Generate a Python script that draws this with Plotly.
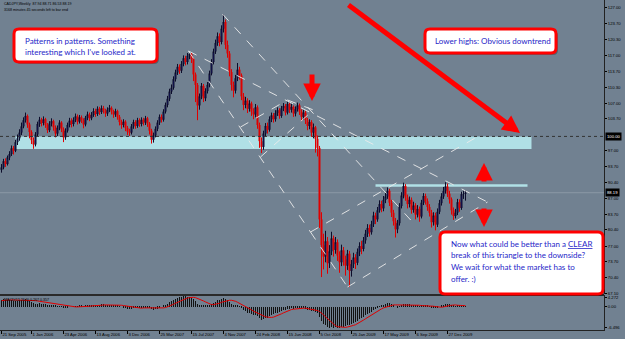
import plotly.graph_objects as go

# ---------------- DATA ----------------
first_open = 93.0
closes = [
    93.5, 94.8, 94.2, 95.6, 96.3, 97.5, 97.0, 98.8, 99.6, 100.8,
    102.1, 103.4, 104.3, 102.5, 100.9, 99.2, 98.3, 100.4, 102.6, 103.5,
    102.8, 103.6, 102.4, 101.3, 102.7, 103.2, 101.9, 100.6, 101.8, 102.9,
    101.5, 99.8, 101.2, 102.4, 103.3, 102.6, 103.5, 104.2, 103.1, 104.0,
    103.4, 102.5, 103.9, 104.6, 103.8, 104.5, 105.3, 104.7, 105.8, 105.1,
    105.9, 105.4, 104.8, 105.6, 106.0, 105.2, 104.6, 105.3, 104.1, 103.0,
    102.4, 103.1, 101.8, 101.0, 100.8, 102.1, 103.0, 102.2, 103.4, 102.6,
    103.5, 102.9, 103.8, 102.7, 101.2, 99.3, 100.2, 101.6, 102.9, 104.1,
    103.5, 105.2, 106.6, 107.9, 109.4, 110.2, 112.0, 113.4, 114.6, 113.8,
    115.2, 116.4, 115.6, 116.9, 117.3, 116.2, 113.0, 110.8, 106.5, 108.4,
    110.6, 108.0, 109.5, 110.8, 113.2, 115.6, 117.8, 119.6, 121.0, 119.8,
    122.6, 124.0, 119.2, 117.4, 113.5, 110.8, 109.6, 112.2, 114.0, 112.8,
    108.4, 106.6, 107.5, 105.8, 106.9, 105.2, 104.6, 106.1, 102.4, 99.0,
    97.8, 100.6, 102.2, 101.4, 103.6, 104.4, 103.6, 104.9, 105.5, 104.3,
    105.9, 106.4, 105.0, 106.8, 105.6, 106.2, 104.8, 105.7, 106.5, 105.2,
    104.1, 105.0, 103.4, 102.2, 103.0, 100.8, 101.9, 99.5, 97.6, 82.6,
    77.2, 74.8, 78.0, 73.4, 75.9, 78.6, 76.2, 77.8, 75.0, 73.6,
    76.1, 74.2, 72.9, 75.4, 71.8, 73.2, 74.6, 73.5, 75.8, 77.0,
    76.4, 78.2, 79.6, 80.8, 79.9, 81.6, 83.4, 82.6, 84.5, 85.8,
    84.9, 86.7, 87.4, 88.6, 86.1, 84.0, 82.2, 80.5, 81.8, 85.4,
    87.6, 89.6, 87.2, 85.8, 86.7, 84.6, 85.5, 83.6, 84.8, 83.2,
    86.1, 87.5, 86.4, 85.2, 84.0, 82.0, 83.4, 81.5, 84.2, 86.0,
    87.4, 88.6, 89.5, 88.0, 86.8, 84.5, 83.3, 84.0, 86.2, 85.0,
    87.9, 87.94, 88.19,
]
highs = [
    94.2, 95.3, 95.4, 96.0, 96.9, 98.1, 98.0, 99.3, 100.4, 101.5,
    102.9, 104.0, 105.0, 104.6, 102.9, 101.3, 99.8, 100.9, 103.1, 104.1,
    103.9, 104.2, 103.9, 102.8, 103.2, 103.8, 103.5, 102.3, 102.3, 103.4,
    103.2, 101.9, 101.7, 102.9, 103.9, 103.8, 104.0, 104.8, 104.6, 104.5,
    104.4, 103.8, 104.3, 105.2, 105.0, 105.1, 105.9, 105.8, 106.3, 106.2,
    106.5, 106.4, 105.8, 106.1, 106.6, 106.3, 105.6, 105.8, 105.6, 104.5,
    103.5, 103.6, 103.4, 102.2, 101.6, 102.6, 103.5, 103.4, 103.9, 103.8,
    104.0, 103.9, 104.3, 104.1, 103.0, 101.6, 100.8, 102.1, 103.4, 104.6,
    104.6, 105.7, 107.1, 108.5, 110.0, 110.9, 112.6, 114.0, 115.2, 115.1,
    115.8, 117.0, 116.9, 117.5, 117.9, 117.6, 116.5, 113.4, 111.2, 109.0,
    111.2, 111.0, 110.1, 111.4, 113.8, 116.2, 118.4, 120.3, 121.8, 121.6,
    123.3, 125.6, 124.5, 120.1, 117.9, 114.1, 111.5, 112.9, 115.4, 114.6,
    113.2, 109.1, 108.3, 108.0, 107.6, 107.3, 105.9, 106.8, 106.5, 102.9,
    99.8, 101.2, 102.8, 102.9, 104.2, 105.0, 104.9, 105.5, 106.1, 105.9,
    106.4, 107.0, 106.8, 107.3, 107.1, 106.9, 106.5, 106.3, 107.1, 106.9,
    105.7, 105.6, 105.4, 103.9, 103.6, 103.4, 102.7, 102.2, 100.2, 98.0,
    84.1, 79.6, 80.2, 78.9, 77.2, 80.0, 79.2, 78.9, 78.4, 75.9,
    77.3, 76.8, 75.0, 76.2, 76.0, 74.1, 75.6, 75.3, 76.5, 77.8,
    78.1, 78.9, 80.4, 81.6, 81.5, 82.3, 84.2, 84.0, 85.2, 86.6,
    86.5, 87.5, 88.2, 89.3, 89.0, 86.7, 84.6, 82.9, 82.5, 86.0,
    88.3, 90.3, 90.0, 87.8, 87.4, 87.2, 86.3, 86.0, 85.6, 85.3,
    86.7, 88.1, 88.0, 87.0, 85.8, 84.6, 84.1, 84.0, 84.9, 86.7,
    88.1, 89.4, 90.4, 90.1, 88.6, 87.2, 85.1, 84.8, 86.9, 86.8,
    88.4, 88.6, 88.71,
]
lows = [
    92.4, 93.1, 93.6, 93.9, 95.0, 95.9, 96.2, 96.7, 98.2, 99.1,
    100.3, 101.7, 102.9, 101.8, 99.6, 98.4, 97.4, 97.9, 100.0, 102.0,
    102.1, 102.3, 101.8, 100.7, 100.9, 102.1, 101.2, 99.8, 100.1, 101.3,
    100.9, 98.8, 99.3, 100.8, 101.9, 101.9, 102.1, 103.0, 102.5, 102.7,
    102.8, 101.7, 102.1, 103.4, 103.2, 103.4, 104.1, 104.1, 104.3, 104.5,
    104.7, 104.8, 104.1, 104.3, 105.1, 104.6, 103.9, 104.1, 103.5, 102.3,
    101.6, 101.9, 101.1, 100.3, 100.1, 100.4, 101.6, 101.6, 101.8, 102.0,
    102.1, 102.3, 102.4, 102.0, 100.4, 98.5, 98.7, 99.8, 101.1, 102.4,
    102.9, 103.1, 104.8, 106.1, 107.4, 108.9, 109.8, 111.5, 112.9, 113.1,
    113.3, 114.7, 114.9, 115.1, 116.2, 115.4, 111.6, 107.2, 103.4, 105.6,
    107.8, 107.2, 107.4, 109.0, 110.3, 112.8, 115.1, 117.3, 119.0, 118.9,
    119.3, 121.8, 118.3, 116.5, 112.6, 109.6, 108.2, 109.0, 111.6, 111.9,
    107.6, 105.5, 105.9, 104.9, 105.2, 104.3, 103.6, 104.0, 101.6, 97.6,
    96.5, 97.2, 100.0, 100.6, 101.0, 103.0, 102.9, 103.1, 104.3, 103.7,
    103.9, 105.3, 104.4, 104.6, 104.9, 105.0, 104.1, 104.2, 105.2, 104.5,
    103.2, 103.5, 102.6, 101.3, 101.5, 99.9, 99.6, 96.6, 95.8, 80.8,
    70.5, 72.1, 73.6, 71.2, 72.4, 75.1, 74.8, 75.4, 73.9, 71.4,
    72.8, 72.9, 70.8, 72.0, 68.4, 70.6, 72.4, 72.2, 73.0, 74.9,
    75.3, 75.9, 77.5, 78.9, 79.0, 79.4, 81.0, 81.6, 82.1, 84.0,
    84.1, 84.3, 86.0, 86.9, 85.4, 83.1, 81.3, 78.8, 79.7, 81.3,
    84.9, 87.0, 86.5, 84.9, 85.1, 83.8, 84.0, 82.6, 83.0, 82.1,
    82.8, 85.6, 85.7, 84.4, 83.2, 80.9, 81.3, 80.3, 81.0, 83.7,
    85.5, 86.9, 88.0, 87.3, 85.9, 83.6, 82.5, 82.8, 83.5, 84.2,
    84.6, 86.9, 86.53,
]
macd_main = [
    2.2, 2.3, 2.2, 2.1, 2.0, 2.0, 1.9, 1.9, 1.9, 2.0,
    2.1, 2.2, 2.3, 2.1, 1.8, 1.4, 1.2, 1.0, 1.0, 1.1,
    1.0, 1.0, 0.9, 0.7, 0.6, 0.6, 0.5, 0.3, 0.2, 0.2,
    0.1, -0.1, -0.2, -0.1, 0.0, 0.0, 0.1, 0.2, 0.2, 0.3,
    0.3, 0.2, 0.3, 0.4, 0.4, 0.5, 0.6, 0.6, 0.7, 0.7,
    0.8, 0.8, 0.7, 0.7, 0.7, 0.6, 0.5, 0.5, 0.4, 0.2,
    0.0, -0.1, -0.3, -0.5, -0.6, -0.5, -0.4, -0.4, -0.3, -0.3,
    -0.2, -0.2, -0.1, -0.2, -0.4, -0.7, -0.8, -0.7, -0.5, -0.2,
    0.0, 0.3, 0.6, 1.0, 1.4, 1.8, 2.2, 2.5, 2.8, 3.0,
    3.1, 3.2, 3.2, 3.1, 3.0, 2.8, 2.4, 1.8, 1.0, 0.7,
    0.6, 0.4, 0.3, 0.3, 0.5, 0.8, 1.2, 1.6, 2.0, 2.2,
    2.5, 2.7, 2.4, 2.0, 1.5, 1.0, 0.6, 0.4, 0.3, 0.2,
    -0.4, -1.0, -1.3, -1.7, -1.9, -2.2, -2.5, -2.5, -2.9, -3.5,
    -3.9, -3.8, -3.5, -3.3, -2.9, -2.5, -2.3, -2.0, -1.7, -1.6,
    -1.3, -1.0, -0.9, -0.6, -0.6, -0.4, -0.5, -0.4, -0.3, -0.3,
    -0.4, -0.4, -0.6, -0.8, -0.9, -1.2, -1.3, -1.6, -2.0, -3.2,
    -4.3, -5.2, -5.6, -6.1, -6.3, -6.2, -6.3, -6.2, -6.3, -6.5,
    -6.2, -6.0, -5.9, -5.6, -5.6, -5.3, -4.9, -4.6, -4.2, -3.8,
    -3.5, -3.0, -2.6, -2.2, -1.9, -1.5, -1.0, -0.7, -0.3, 0.1,
    0.3, 0.6, 0.9, 1.2, 1.1, 0.8, 0.4, 0.0, -0.1, 0.1,
    0.5, 0.9, 1.0, 0.9, 0.9, 0.7, 0.6, 0.4, 0.3, 0.2,
    0.3, 0.5, 0.5, 0.4, 0.2, -0.1, -0.2, -0.4, -0.3, 0.0,
    0.3, 0.6, 0.9, 0.9, 0.8, 0.6, 0.3, 0.2, 0.3, 0.3,
    0.4, 0.3, 0.267,
]
macd_signal = [
    1.9, 2.0, 2.0, 2.1, 2.1, 2.1, 2.1, 2.1, 2.1, 2.0,
    2.0, 2.0, 2.0, 2.1, 2.1, 2.0, 2.0, 1.9, 1.8, 1.7,
    1.6, 1.4, 1.3, 1.2, 1.1, 1.0, 0.9, 0.8, 0.7, 0.6,
    0.5, 0.4, 0.3, 0.2, 0.1, 0.1, 0.0, 0.0, 0.0, 0.0,
    0.1, 0.1, 0.1, 0.2, 0.2, 0.3, 0.3, 0.4, 0.4, 0.5,
    0.5, 0.6, 0.6, 0.6, 0.7, 0.7, 0.7, 0.6, 0.6, 0.6,
    0.5, 0.4, 0.3, 0.2, 0.0, -0.1, -0.2, -0.3, -0.4, -0.4,
    -0.4, -0.3, -0.3, -0.3, -0.3, -0.3, -0.4, -0.4, -0.5, -0.5,
    -0.4, -0.3, -0.2, 0.0, 0.2, 0.5, 0.8, 1.1, 1.4, 1.7,
    2.0, 2.3, 2.5, 2.7, 2.8, 2.9, 2.9, 2.8, 2.6, 2.4,
    2.1, 1.8, 1.5, 1.2, 0.9, 0.7, 0.7, 0.8, 0.9, 1.1,
    1.4, 1.6, 1.8, 2.0, 2.0, 2.0, 1.9, 1.7, 1.4, 1.1,
    0.7, 0.4, 0.1, -0.2, -0.6, -0.9, -1.3, -1.6, -1.9, -2.2,
    -2.5, -2.8, -3.0, -3.1, -3.2, -3.2, -3.1, -2.9, -2.7, -2.4,
    -2.1, -1.8, -1.5, -1.2, -1.0, -0.8, -0.7, -0.6, -0.5, -0.5,
    -0.4, -0.4, -0.4, -0.5, -0.5, -0.6, -0.8, -0.9, -1.1, -1.4,
    -1.8, -2.4, -3.0, -3.6, -4.2, -4.8, -5.3, -5.7, -6.0, -6.1,
    -6.2, -6.2, -6.2, -6.1, -6.0, -5.8, -5.6, -5.4, -5.1, -4.8,
    -4.4, -4.0, -3.6, -3.2, -2.8, -2.4, -2.0, -1.6, -1.2, -0.9,
    -0.6, -0.3, -0.1, 0.1, 0.3, 0.5, 0.6, 0.6, 0.6, 0.5,
    0.5, 0.5, 0.5, 0.6, 0.6, 0.7, 0.7, 0.7, 0.6, 0.5,
    0.4, 0.4, 0.4, 0.4, 0.4, 0.3, 0.2, 0.1, 0.0, 0.0,
    -0.1, 0.0, 0.2, 0.3, 0.4, 0.5, 0.6, 0.6, 0.5, 0.5,
    0.4, 0.4, 0.357,
]
price_ticks = [127.00, 123.70, 120.30, 117.00, 113.70, 110.30, 107.00, 103.70,
               97.00, 93.70, 90.40, 87.00, 83.70, 80.40, 77.00, 73.70, 70.40, 67.10]
date_tick_bars = [0, 15, 31, 47, 63, 79, 95, 111, 127, 143, 159, 175, 191, 207, 223]
date_labels = ["21 Sep 2005", "1 Jan 2006", "23 Apr 2006", "13 Aug 2006", "3 Dec 2006",
               "25 Mar 2007", "15 Jul 2007", "4 Nov 2007", "24 Feb 2008", "15 Jun 2008",
               "5 Oct 2008", "25 Jan 2009", "17 May 2009", "6 Sep 2009", "27 Dec 2009"]
macd_label_vals = [2.75, 0.0, -6.2]
macd_label_text = ["4.272", "0.00", "-6.496"]

# drawn objects (bar index, price)
support_zone = (7, 265, 97.37, 100.0)
resistance_strip = (187, 263, 89.45, 89.95)
level_line = 100.0
bid_price = 88.19
trend_lines = [
    (93.5, 117.91, 154.5, 79.95),
    (93.5, 117.91, 243.0, 86.24),
    (110.5, 125.67, 205.5, 82.05),
    (154.5, 79.95, 173.0, 68.42),
    (173.0, 68.42, 243.0, 86.24),
    (154.5, 79.95, 239.5, 100.30),
    (129.5, 95.68, 156.0, 105.54),
    (119.5, 101.97, 143.0, 107.64),
    (143.0, 107.64, 156.0, 105.54),
]

# ---------------- FIGURE ----------------
BG = '#718191'
W_PLOT, H_PLOT = 604.0, 330.0


def pp(x, y):
    return x / W_PLOT, (H_PLOT - y) / H_PLOT


bars = list(range(len(closes)))
opens = [first_open] + closes[:-1]

fig = go.Figure()
fig.add_trace(go.Candlestick(
    x=bars, open=opens, high=highs, low=lows, close=closes,
    increasing=dict(line=dict(color='#0c0c2a', width=1), fillcolor='#1c1caa'),
    decreasing=dict(line=dict(color='#e00000', width=1), fillcolor='#e00000'),
    whiskerwidth=0, xaxis='x', yaxis='y', hoverinfo='skip', showlegend=False))
fig.add_trace(go.Bar(x=bars, y=macd_main, width=0.5,
                     marker=dict(color='#111111', line=dict(width=0)),
                     xaxis='x2', yaxis='y2', showlegend=False))
fig.add_trace(go.Scatter(x=bars, y=macd_signal, mode='lines',
                         line=dict(color='#e00000', width=1),
                         xaxis='x2', yaxis='y2', showlegend=False))

shapes = []
x0, x1, y0, y1 = support_zone
shapes.append(dict(type='rect', xref='x', yref='y', x0=x0, x1=x1, y0=y0, y1=y1,
                   fillcolor='#b0e0e6', line=dict(width=0), layer='below'))
x0, x1, y0, y1 = resistance_strip
shapes.append(dict(type='rect', xref='x', yref='y', x0=x0, x1=x1, y0=y0, y1=y1,
                   fillcolor='#b0e0e6', line=dict(width=0), layer='below'))
shapes.append(dict(type='line', xref='paper', yref='y', x0=0, x1=1, y0=bid_price, y1=bid_price,
                   line=dict(color='rgba(170,180,192,0.45)', width=1), layer='below'))
shapes.append(dict(type='line', xref='paper', yref='y', x0=0, x1=1, y0=level_line, y1=level_line,
                   line=dict(color='#333333', width=1, dash='dot')))
for (a0, b0, a1, b1) in trend_lines:
    shapes.append(dict(type='line', xref='x', yref='y', x0=a0, y0=b0, x1=a1, y1=b1,
                       line=dict(color='rgba(235,235,235,0.9)', width=1, dash='dash')))
sy = pp(0, 295)[1]
shapes.append(dict(type='line', xref='paper', yref='paper', x0=0, x1=1, y0=sy, y1=sy,
                   line=dict(color='#2a2a2a', width=2)))


def rrect(x0, y0, x1, y1, r):
    def P(x, y):
        a, b = pp(x, y)
        return f'{a:.5f},{b:.5f}'
    return (f'M {P(x0 + r, y0)} L {P(x1 - r, y0)} Q {P(x1, y0)} {P(x1, y0 + r)} '
            f'L {P(x1, y1 - r)} Q {P(x1, y1)} {P(x1 - r, y1)} L {P(x0 + r, y1)} '
            f'Q {P(x0, y1)} {P(x0, y1 - r)} L {P(x0, y0 + r)} Q {P(x0, y0)} {P(x0 + r, y0)} Z')


boxes = [(14, 29, 157, 62), (425, 29, 556, 53), (440, 232, 603, 294)]
for (bx0, by0, bx1, by1) in boxes:
    shapes.append(dict(type='path', xref='paper', yref='paper',
                       path=rrect(bx0 + 2, by0 + 2, bx1 + 2, by1 + 2, 5),
                       fillcolor='rgba(0,0,0,0.25)', line=dict(width=0)))
    shapes.append(dict(type='path', xref='paper', yref='paper',
                       path=rrect(bx0, by0, bx1, by1, 5),
                       fillcolor='white', line=dict(color='#ff0000', width=3)))

ann = []
TXT = dict(family='Lato', size=8.0, color='#2626c8')


def text_line(x, y, s):
    a, b = pp(x, y)
    ann.append(dict(x=a, y=b, xref='paper', yref='paper', xanchor='left', yanchor='middle',
                    text=s, showarrow=False, font=TXT))


text_line(23, 40.7, "Patterns in patterns. Something")
text_line(23, 52.3, "interesting which I've looked at.")
text_line(433, 41, "Lower highs: Obvious downtrend")
text_line(449, 244, "Now what could be better than a <u>CLEAR</u>")
text_line(449, 255.5, "break of this triangle to the downside?")
text_line(449, 267, "We wait for what the market has to")
text_line(449, 278.5, "offer. :)")


def arrow(tx, ty, hx, hy, w=5):
    a, b = pp(hx, hy)
    ann.append(dict(x=a, y=b, xref='paper', yref='paper', ax=tx - hx, ay=ty - hy,
                    axref='pixel', ayref='pixel', text='', showarrow=True,
                    arrowhead=2, arrowsize=0.7, arrowwidth=w, arrowcolor='#ff0000',
                    standoff=0, startstandoff=0))


arrow(347, 4, 520, 133)
arrow(312, 73, 312, 101)
arrow(484, 183, 484, 163)
arrow(484, 207, 484, 227)

SMALL = dict(family='Liberation Sans', size=3.6, color='#000000')
a, b = pp(2, 3.5)
ann.append(dict(x=a, y=b, xref='paper', yref='paper', xanchor='left', yanchor='middle',
                text='CADJPY,Weekly  87.94 88.71 86.53 88.19', showarrow=False, font=SMALL))
a, b = pp(2, 9.5)
ann.append(dict(x=a, y=b, xref='paper', yref='paper', xanchor='left', yanchor='middle',
                text='3168 minutes 45 seconds left to bar end', showarrow=False, font=SMALL))
a, b = pp(2, 300)
ann.append(dict(x=a, y=b, xref='paper', yref='paper', xanchor='left', yanchor='middle',
                text='MACD(12,26,9) 0.267 0.357', showarrow=False, font=SMALL))
for val, s in [(level_line, '100.00'), (bid_price, '88.19')]:
    ann.append(dict(x=1, y=val, xref='paper', yref='y', xanchor='left', yanchor='middle',
                    xshift=1, text=s, showarrow=False, bgcolor='#000000', borderpad=1,
                    font=dict(family='Liberation Sans', size=4.2, color='#ffffff')))

AX = dict(family='Liberation Sans', size=4.2, color='#000000')
fig.update_layout(
    width=625, height=339, margin=dict(l=0, r=21, t=0, b=9),
    paper_bgcolor=BG, plot_bgcolor=BG, showlegend=False, bargap=0,
    xaxis=dict(domain=[0, 1], anchor='y', range=[-0.75, 301.25], showticklabels=False,
               showgrid=False, zeroline=False, rangeslider=dict(visible=False), matches='x2'),
    xaxis2=dict(domain=[0, 1], anchor='y2', range=[-0.75, 301.25], tickvals=date_tick_bars,
                ticktext=date_labels, ticks='outside', ticklen=3, tickcolor='#000000',
                tickfont=AX, tickangle=0, ticklabelposition='outside right', showgrid=False,
                zeroline=False, showline=True, linecolor='#222222', linewidth=1),
    yaxis=dict(domain=[36 / 330, 1], anchor='x', range=[66.95, 128.61], side='right',
               tickvals=price_ticks, ticktext=[f'{v:.2f}' for v in price_ticks],
               ticks='outside', ticklen=2, tickcolor='#000000', tickfont=AX,
               showgrid=False, zeroline=False, showline=True, linecolor='#222222'),
    yaxis2=dict(domain=[0, 35 / 330], anchor='x2', range=[-7.0, 3.6], side='right',
                tickvals=macd_label_vals, ticktext=macd_label_text, ticks='outside',
                ticklen=2, tickcolor='#000000', tickfont=AX, showgrid=False,
                zeroline=False, showline=True, linecolor='#222222'),
    shapes=shapes, annotations=ann,
)
fig.write_html("out.html")
